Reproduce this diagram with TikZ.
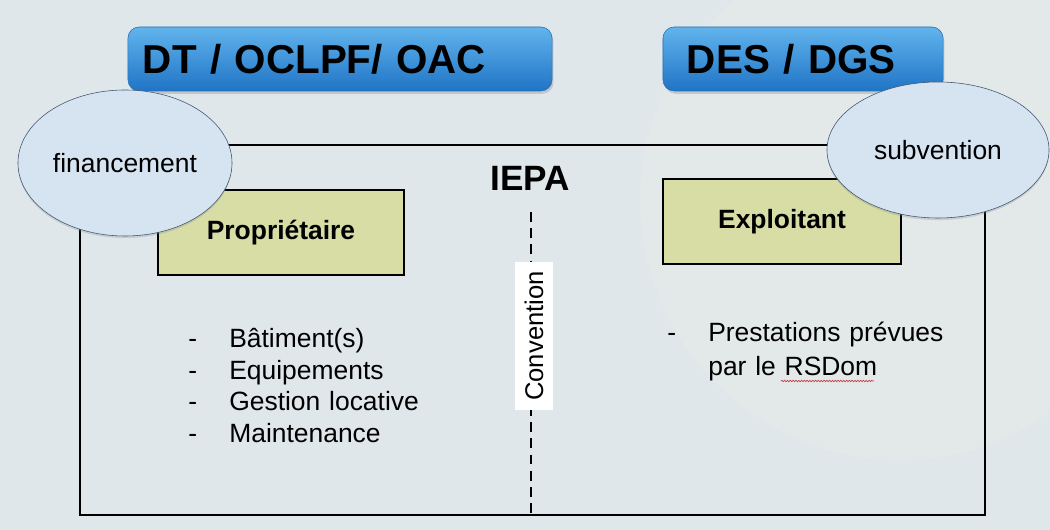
\documentclass[tikz,border=0pt]{standalone}
\usepackage{fontspec}
\setmainfont{Liberation Sans}
\usepackage{tikz}
\usetikzlibrary{shapes.geometric,shadows,decorations.pathmorphing}

\definecolor{fond}{HTML}{E0E7EB}
\definecolor{fondclair}{HTML}{E9ECE7}
\definecolor{bleuhaut}{HTML}{62B4EC}
\definecolor{bleubas}{HTML}{1F74C6}
\definecolor{bleubord}{HTML}{2C6FB0}
\definecolor{bulle}{HTML}{D6E4F1}
\definecolor{bullebord}{HTML}{3D5470}
\definecolor{vert}{HTML}{D7DDA5}
\definecolor{souligne}{HTML}{C84040}

\newcommand{\policetexte}{\fontsize{18.8}{22.4}\selectfont}

\begin{document}
\begin{tikzpicture}[x=0.025cm,y=0.025cm,
    acteur/.style={rounded corners=8pt, draw=bleubord, top color=bleuhaut,
      bottom color=bleubas, minimum height=1.6cm, align=left,
      font=\fontsize{28.7}{30}\selectfont\bfseries,
      drop shadow={shadow xshift=1pt, shadow yshift=-2pt, opacity=0.3}},
    bulle/.style={ellipse, draw=bullebord, fill=bulle, inner sep=0pt,
      font=\policetexte,
      drop shadow={shadow xshift=0pt, shadow yshift=-1.5pt, opacity=0.25}},
    role/.style={draw, line width=0.9pt, fill=vert, minimum height=2.125cm,
      font=\policetexte\bfseries},
    liste/.style={anchor=base west, inner sep=0pt, text width=7cm, align=left},
    convline/.style={line width=1.3pt, dash pattern=on 7pt off 4.5pt},
    ondule/.style={souligne, line width=0.5pt, decorate,
      decoration={snake, amplitude=0.5pt, segment length=2pt}}]
      \useasboundingbox (0,0) rectangle (1050,530);
      % Fond
      \fill[fond] (0,0) rectangle (1050,530);
      \fill[fondclair, opacity=0.35] (900,330) circle (260);
      % Cadre IEPA
      \node[draw, line width=1.1pt, minimum width=22.625cm, minimum height=9.25cm,
        inner sep=0pt] (cadre) at (532.5,200) {};
      \node[font=\fontsize{25}{28}\selectfont\bfseries] (iepa) at (530,352) {IEPA};
      \coordinate (convhaut) at (531,318);
      \draw[convline] (convhaut) -- (convhaut |- cadre.south);
      \node[rotate=90, fill=white, minimum width=3.7cm, minimum height=0.95cm,
        font=\fontsize{18.2}{20}\selectfont] (convention) at (534,194) {Convention};
      % Proprietaire / exploitant
      \node[role, minimum width=6.15cm] (proprio) at (281,297.5) {Propriétaire};
      \node[role, minimum width=5.95cm] (exploitant) at (782,308.5) {Exploitant};
      \node[liste, font=\fontsize{18.8}{22.4}\selectfont] (charges) at (188,182) {%
        \makebox[1.025cm][l]{-}Bâtiment(s)\\
        \makebox[1.025cm][l]{-}Equipements\\
        \makebox[1.025cm][l]{-}Gestion locative\\
        \makebox[1.025cm][l]{-}Maintenance};
      \node[liste, font=\fontsize{18.8}{23.5}\selectfont] (prestations) at (667,188) {%
        \makebox[1.025cm][l]{-}Prestations prévues\\
        \hspace*{1.025cm}par le RSDom};
      \draw[ondule] (781,149) -- (874,149);
      % Financeurs
      \node[acteur, text width=9.85cm, inner xsep=0.375cm] (dt) at (340,471)
        {DT / OCLPF/ OAC};
      \node[acteur, text width=5.8cm, inner xsep=0.6cm] (des) at (803,471)
        {DES / DGS};
      \node[bulle, minimum width=5.35cm, minimum height=3.65cm] (financement)
        at (125,367) {financement};
      \node[bulle, minimum width=5.55cm, minimum height=3.4cm] (subvention)
        at (938,380) {subvention};
    \end{tikzpicture}
\end{document}
